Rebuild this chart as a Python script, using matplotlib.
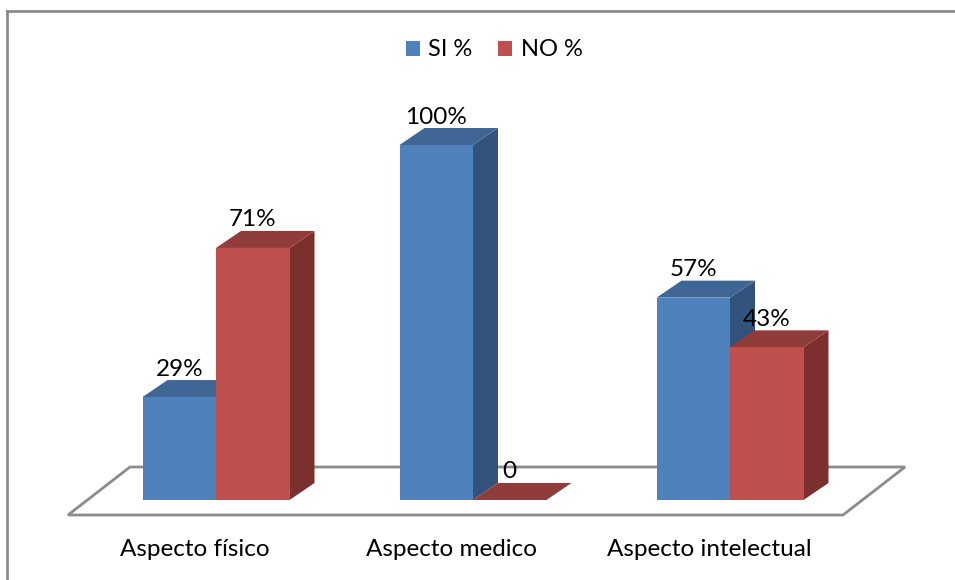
import matplotlib
matplotlib.use("Agg")
import matplotlib.pyplot as plt
from matplotlib.patches import Polygon, Patch
from matplotlib.lines import Line2D

# Data
categories = ["Aspecto físico", "Aspecto medico", "Aspecto intelectual"]
series_names = ["SI %", "NO %"]
si_values = [29, 100, 57]
no_values = [71, 0, 43]

# Colours: front, top, side faces for each series
blue = {"front": "#4F81BD", "top": "#3F6694", "side": "#32537B"}
red = {"front": "#C0504D", "top": "#8F3C3A", "side": "#7B302E"}

plt.rcParams["font.family"] = ["Lato", "DejaVu Sans"]

W, H, DPI = 955, 580, 100
fig = plt.figure(figsize=(W / DPI, H / DPI), dpi=DPI)
ax = fig.add_axes([0, 0, 1, 1])

# Axis scale: 1 category = 257 px, 1 percent = 3.55 px
px_x, px_y = 257.0, 3.55
x0_px, y0_px = 216.0, 80.0
ax.set_xlim(-x0_px / px_x, (W - x0_px) / px_x)
ax.set_ylim(-y0_px / px_y, (H - y0_px) / px_y)
ax.axis("off")

bar_w = 73.5 / px_x
dx, dy = 25 / px_x, 17 / px_y  # depth offset of the 3D bars

# Floor
floor_back, floor_front = 33 / px_y, -15 / px_y
fl_left, fl_right = -148 / px_x, 627 / px_x
fl_shift = 62 / px_x
floor = Polygon([(fl_left, floor_front), (fl_right, floor_front),
                 (fl_right + fl_shift, floor_back), (fl_left + fl_shift, floor_back)],
                closed=True, facecolor="white", edgecolor="#8C8C8C", lw=2, zorder=1)
ax.add_patch(floor)


def bar3d(x_left, h, col):
    x_right = x_left + bar_w
    if h > 0:
        side = Polygon([(x_right, 0), (x_right + dx, dy), (x_right + dx, h + dy), (x_right, h)],
                       closed=True, facecolor=col["side"], edgecolor="none", zorder=3)
        ax.add_patch(side)
    top = Polygon([(x_left, h), (x_right, h), (x_right + dx, h + dy), (x_left + dx, h + dy)],
                  closed=True, facecolor=col["top"], edgecolor="none", zorder=3)
    ax.add_patch(top)
    if h > 0:
        front = Polygon([(x_left, 0), (x_right, 0), (x_right, h), (x_left, h)],
                        closed=True, facecolor=col["front"], edgecolor="none", zorder=4)
        ax.add_patch(front)


label_off = 28 / px_y
for i, (s, n) in enumerate(zip(si_values, no_values)):
    for j, (v, col) in enumerate([(s, blue), (n, red)]):
        xl = i - bar_w + j * bar_w
        bar3d(xl, v, col)
        txt = f"{v}%" if v else "0"
        ax.text(xl + bar_w / 2, v + label_off, txt, ha="center", va="center",
                fontsize=17.5, color="black", zorder=6)
    ax.text(i - 21 / px_x, -50 / px_y, categories[i], ha="center", va="center",
            fontsize=17.5, color="black", zorder=6)

handles = [Patch(facecolor=blue["front"], edgecolor="none"),
           Patch(facecolor=red["front"], edgecolor="none")]
leg = fig.legend(handles, series_names, loc="center", bbox_to_anchor=(494 / W, 1 - 50 / H),
                 ncol=2, frameon=False, fontsize=17, handlelength=0.6, handleheight=0.6,
                 handletextpad=0.35, columnspacing=1.1)

# Chart border (top and left edges visible)
bx, by = 6.5 / W, 1 - 10.5 / H
fig.add_artist(Line2D([bx, 1.0], [by, by], color="#8C8C8C", lw=2, transform=fig.transFigure))
fig.add_artist(Line2D([bx, bx], [0.0, by], color="#8C8C8C", lw=2, transform=fig.transFigure))

fig.savefig("out.png", dpi=DPI, facecolor="white")
